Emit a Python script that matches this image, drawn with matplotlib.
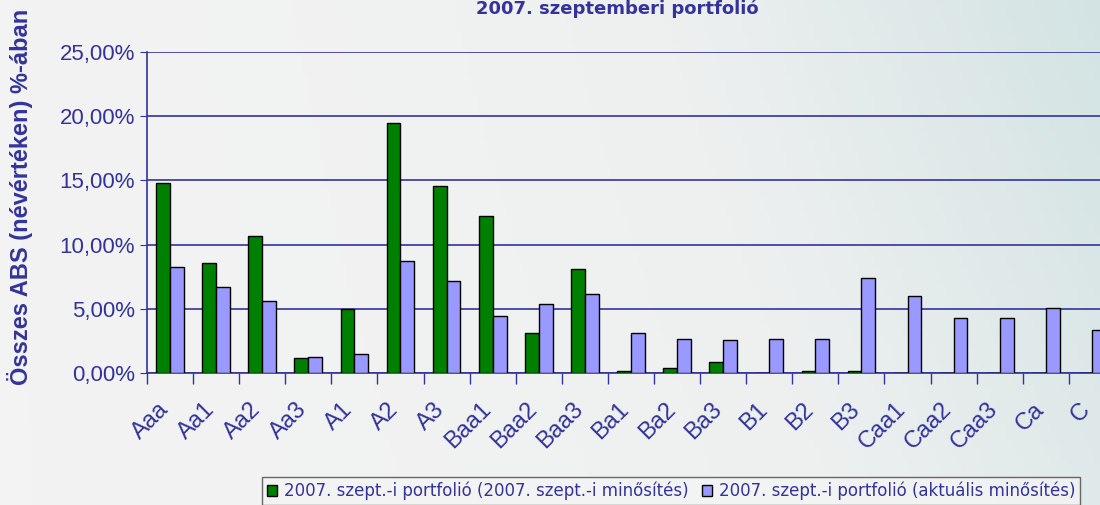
import matplotlib
matplotlib.use("Agg")

import numpy as np
import matplotlib.pyplot as plt
from matplotlib.colors import LinearSegmentedColormap
from matplotlib.ticker import FuncFormatter
from matplotlib.transforms import ScaledTranslation

categories = ["Aaa", "Aa1", "Aa2", "Aa3", "A1", "A2", "A3", "Baa1", "Baa2", "Baa3",
              "Ba1", "Ba2", "Ba3", "B1", "B2", "B3", "Caa1", "Caa2", "Caa3", "Ca", "C"]
orig_rating = [14.83, 8.6, 10.67, 1.17, 4.98, 19.5, 14.54, 12.2, 3.15, 8.13,
               0.19, 0.42, 0.89, 0.0, 0.19, 0.19, 0.0, 0.0, 0.0, 0.0, 0.0]
curr_rating = [8.26, 6.7, 5.64, 1.25, 1.51, 8.72, 7.17, 4.47, 5.4, 6.18,
               3.15, 2.68, 2.6, 2.68, 2.68, 7.43, 6.0, 4.28, 4.28, 5.09, 3.38]
legend_labels = ["2007. szept.-i portfolió (2007. szept.-i minősítés)",
                 "2007. szept.-i portfolió (aktuális minősítés)"]

navy = "#333399"
plt.rcParams["font.family"] = ["Liberation Sans", "DejaVu Sans"]

fig = plt.figure(figsize=(11, 5.05), dpi=100)

# background gradient
bg = fig.add_axes([0, 0, 1, 1], zorder=-10)
xx, yy = np.meshgrid(np.linspace(0, 1, 200), np.linspace(0, 1, 100))
grad = np.clip(0.75 * xx ** 1.5 + 0.25 * (1 - yy) * xx, 0, 1)
cmap = LinearSegmentedColormap.from_list("bg", ["#f3f3f3", "#eef0f0", "#d3e3e3"])
bg.imshow(grad, cmap=cmap, aspect="auto", extent=[0, 1, 0, 1], origin="upper")
bg.axis("off")

ax = fig.add_axes([0.1336, 0.2614, 0.88, 0.6356])
ax.patch.set_alpha(0)

x = np.arange(len(categories))
w = 0.3
ax.bar(x - w / 2, orig_rating, w, color="#008000", edgecolor="black", linewidth=1,
       label=legend_labels[0], zorder=3)
ax.bar(x + w / 2, curr_rating, w, color="#9999ff", edgecolor="black", linewidth=1,
       label=legend_labels[1], zorder=3)

ax.set_xlim(-0.5, len(categories) - 0.5)
ax.set_ylim(0, 25)
ax.set_yticks([0, 5, 10, 15, 20, 25])
ax.yaxis.set_major_formatter(FuncFormatter(lambda v, p: f"{v:.2f}".replace(".", ",") + "%"))
ax.yaxis.grid(True, color=navy, linewidth=1.2)
ax.set_axisbelow(True)

for s in ["top", "right"]:
    ax.spines[s].set_visible(False)
for s in ["left", "bottom"]:
    ax.spines[s].set_color(navy)
    ax.spines[s].set_linewidth(1.2)

ax.set_xticks(x)
ax.set_xticklabels(categories, rotation=45, ha="right", va="center", rotation_mode="anchor")
ax.set_xticks(np.arange(len(categories) + 1) - 0.5, minor=True)
ax.tick_params(axis="x", which="major", length=0, pad=24, labelsize=17, labelcolor=navy)
ax.tick_params(axis="x", which="minor", length=8, color=navy, width=1)
ax.tick_params(axis="y", length=5, color=navy, labelsize=16, labelcolor=navy)
shift = ScaledTranslation(-0.05, 0, fig.dpi_scale_trans)
for lbl in ax.get_xticklabels():
    lbl.set_transform(lbl.get_transform() + shift)

fig.text(0.018, 0.611, "Összes ABS (névértéken) %-ában", rotation=90, ha="center", va="center",
         fontsize=17, fontweight="bold", color=navy)
fig.text(0.561, 0.983, "2007. szeptemberi portfolió", ha="center", va="center",
         fontsize=13, fontweight="bold", color=navy, family="DejaVu Sans")

leg = fig.legend(loc="upper right", bbox_to_anchor=(0.982, 0.0555), ncol=2,
                 prop={"family": "DejaVu Sans", "size": 12},
                 frameon=True, fancybox=False, handlelength=0.6, handleheight=0.7,
                 handletextpad=0.4, columnspacing=0.8, borderpad=0.3, borderaxespad=0,
                 labelcolor=navy)
leg.get_frame().set_edgecolor("#444444")
leg.get_frame().set_facecolor("#f4f4f4")
leg.get_frame().set_linewidth(1)

fig.savefig("out.png", dpi=100)
